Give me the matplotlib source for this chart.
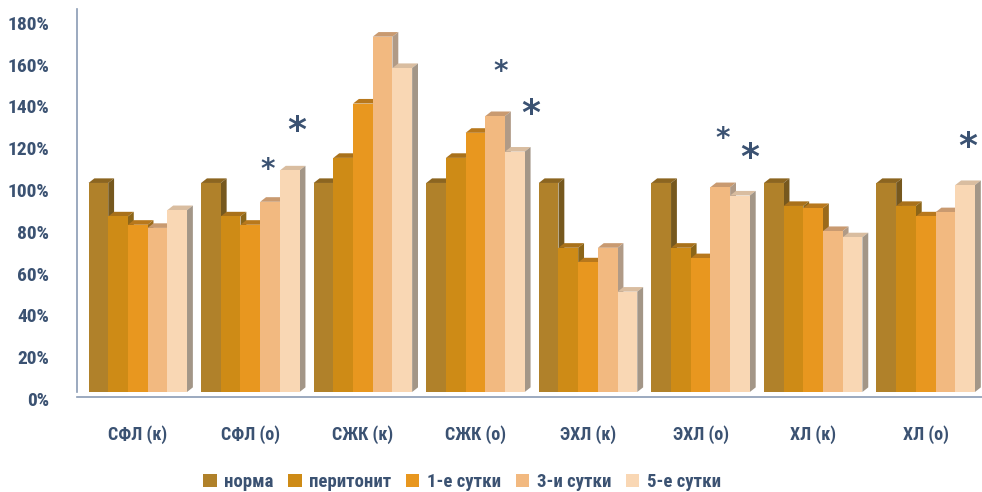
"""Lipid fractions vs. norm: grouped pseudo-3D bar chart."""

import matplotlib

matplotlib.use("Agg")
import matplotlib.pyplot as plt
import numpy as np
from matplotlib.patches import Polygon, Rectangle
from matplotlib.ticker import FuncFormatter
from matplotlib.transforms import ScaledTranslation
from matplotlib import font_manager

categories = ["СФЛ (к)", "СФЛ (о)", "СЖК (к)", "СЖК (о)", "ЭХЛ (к)", "ЭХЛ (о)", "ХЛ (к)", "ХЛ (о)"]
series = ["норма", "перитонит", "1-е сутки", "3-и сутки", "5-е сутки"]

norma = [100, 100, 100, 100, 100, 100, 100, 100]
peritonit = [84, 84, 112, 112, 69, 69, 89, 89]
day1 = [80, 80, 138, 124, 62, 64, 88, 84]
day3 = [78.5, 91, 170, 132, 69, 98, 77, 86]
day5 = [87, 106, 155, 115, 48, 94, 74, 99]

# significance marks: (group, series index, level in %, x nudge in group units)
stars = [(1, 3, 106, -0.02), (1, 4, 125, 0.06), (3, 3, 153, 0.05), (3, 4, 133, 0.14),
         (5, 3, 121, 0.02), (5, 4, 112, 0.09), (7, 4, 117, 0.02)]
yticks = [0, 20, 40, 60, 80, 100, 120, 140, 160, 180]

front_colors = ["#B0812A", "#CE8B16", "#E8971F", "#F2B980", "#F9D7B4"]
top_colors = ["#8C6520", "#A9711A", "#B8781C", "#C99A70", "#D9BDA0"]
side_colors = ["#76581E", "#8C6518", "#9B6A1A", "#B09A86", "#A39687"]
text_color = "#3B5272"


def pick_font():
    names = {f.name for f in font_manager.fontManager.ttflist}
    for name in ["Liberation Sans Narrow", "Roboto Condensed", "Liberation Sans"]:
        if name in names:
            return name
    return "DejaVu Sans"


family = pick_font()
plt.rcParams["font.family"] = [family, "DejaVu Sans"]
plt.rcParams["font.weight"] = "bold"

values = np.array([norma, peritonit, day1, day3, day5])

fig = plt.figure(figsize=(9.82, 4.92), dpi=100)
ax = fig.add_axes([0.0784, 0.2033, 0.9216, 0.7774])

width = 0.175
dx, dy = 0.052, 2.2
x = np.arange(len(categories))

for g in range(len(categories)):
    for j in range(len(series)):
        h = values[j, g]
        x0 = x[g] + (j - 2.5) * width
        x1 = x0 + width
        top = Polygon([(x0, h), (x1, h), (x1 + dx, h + dy), (x0 + dx, h + dy)],
                      closed=True, facecolor=top_colors[j], edgecolor="none")
        side = Polygon([(x1, 0), (x1 + dx, dy), (x1 + dx, h + dy), (x1, h)],
                       closed=True, facecolor=side_colors[j], edgecolor="none")
        ax.add_patch(top)
        ax.add_patch(side)
        ax.add_patch(Rectangle((x0, 0), width, h, facecolor=front_colors[j],
                               edgecolor="none", label=series[j] if g == 0 else None))

for g, j, level, nudge in stars:
    xc = x[g] + (j - 2.0) * width + nudge
    ax.text(xc, level, "*", ha="center", va="center", color=text_color,
            fontsize=26 if j == 4 else 20, fontweight="bold", family="DejaVu Sans")

ax.set_xlim(-0.54, 7.5)
ax.set_ylim(0, 183)
ax.set_xticks(x)
ax.set_xticklabels(categories, fontweight="bold")
ax.set_yticks(yticks)
ax.yaxis.set_major_formatter(FuncFormatter(lambda v, _: f"{v:.0f}%"))
ax.tick_params(axis="both", length=0, colors=text_color)
ax.tick_params(axis="x", pad=20, labelsize=13)
ax.tick_params(axis="y", pad=20, labelsize=14)
for lab in ax.get_yticklabels():
    lab.set_fontweight("bold")
shift = ScaledTranslation(0, -5 / 72, fig.dpi_scale_trans)
for lab in ax.get_yticklabels():
    lab.set_transform(lab.get_transform() + shift)

for s in ["top", "right"]:
    ax.spines[s].set_visible(False)
ax.spines["left"].set_color("#8A9BB4")
ax.spines["bottom"].set_color("#8A9BB4")
ax.spines["bottom"].set_position(("outward", 3.6))
ax.spines["left"].set_linewidth(1.2)
ax.spines["bottom"].set_linewidth(1.2)

leg = fig.legend(loc="center", bbox_to_anchor=(462 / 982, 10 / 492), ncol=5,
                 frameon=False, handlelength=0.7, handleheight=0.7,
                 handletextpad=0.4, columnspacing=0.8,
                 prop={"weight": "bold", "size": 13.5})
for t in leg.get_texts():
    t.set_color(text_color)

fig.savefig("out.png", dpi=100)
